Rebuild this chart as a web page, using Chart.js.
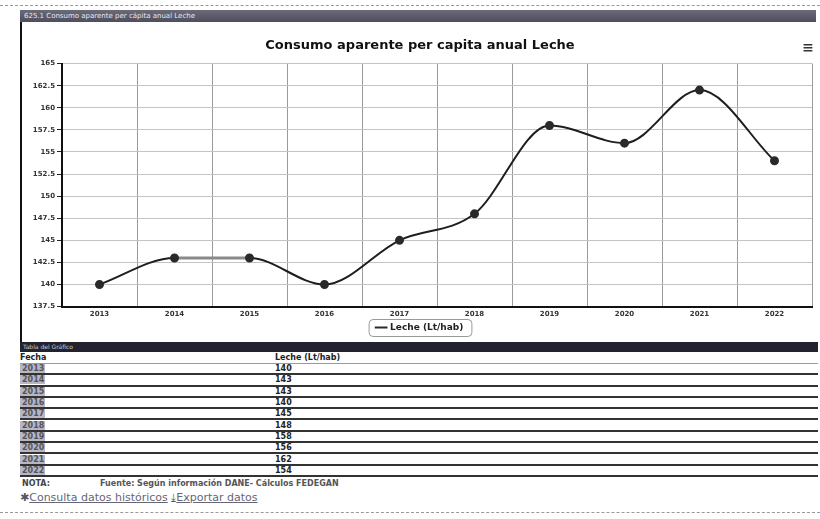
<!DOCTYPE html>
<html>
<head>
<meta charset="utf-8">
<script src="https://cdn.jsdelivr.net/npm/chart.js@4/dist/chart.umd.min.js"></script>
<style>
  html,body{margin:0;padding:0;background:#fff;width:820px;height:519px;overflow:hidden;font-family:"DejaVu Sans",Verdana,sans-serif;}
  .dots{position:absolute;left:0;width:820px;height:0;border-top:1px dashed #999;}
  #hdr{position:absolute;left:20px;top:10px;width:796px;height:12px;background:linear-gradient(#6a6a78,#4e4e5e);color:#e8e8f0;font-size:7px;line-height:12px;padding-left:4px;box-sizing:border-box;}
  #box{position:absolute;left:20px;top:22px;width:798px;height:320px;border-left:2px solid #111;background:#fff;box-sizing:border-box;}
  #wrap{position:absolute;left:0px;top:0;width:796px;height:320px;}
  #menu{position:absolute;right:4px;top:18px;font-size:14px;font-weight:bold;color:#333;line-height:14px;}
  #tbar{position:absolute;left:20px;top:342px;width:798px;height:10px;background:#23232f;color:#ccc;font-size:6px;line-height:10px;padding-left:3px;box-sizing:border-box;}
  table{position:absolute;left:20px;top:352px;width:798px;border-collapse:collapse;font-size:8px;font-weight:bold;color:#222;}
  td,th{padding:0;height:9.3px;line-height:9px;border-bottom:2px solid #333;text-align:left;overflow:hidden;}
  th{height:11px;line-height:11px;border-bottom:1px solid #999;}
  td.y span{background:#b6b6c6;padding:0 3px 0 2px;display:inline-block;width:20px;color:#555;height:9px;}
  #nota{position:absolute;left:22px;top:479px;font-size:8px;font-weight:bold;color:#444;}
  #fuente{position:absolute;left:100px;top:479px;font-size:8px;font-weight:bold;color:#555;}
  #links{position:absolute;left:20px;top:491px;font-size:11px;color:#556;}
  #links a{color:#667;text-decoration:underline;}
</style>
</head>
<body>
<div class="dots" style="top:5px"></div>
<div id="hdr">625.1 Consumo aparente per cápita anual Leche</div>
<div id="box">
  <div id="wrap"><canvas id="c"></canvas></div>
  <div id="menu">&#8801;</div>
</div>
<div id="tbar">Tabla del Gráfico</div>
<table id="tbl"></table>
<div id="nota">NOTA:</div>
<div id="fuente">Fuente: Según información DANE- Cálculos FEDEGAN</div>
<div id="links">&#10033;<a>Consulta datos históricos</a> &#10515;<a>Exportar datos</a></div>
<div class="dots" style="top:512px"></div>
<script>
const years = ["2013","2014","2015","2016","2017","2018","2019","2020","2021","2022"];
const leche = [140, 143, 143, 140, 145, 148, 158, 156, 162, 154];
const seriesName = "Leche (Lt/hab)";
const chartTitle = "Consumo aparente per capita anual Leche";

// table
const tbl = document.getElementById('tbl');
let html = '<tr><th style="width:255px">Fecha</th><th>' + seriesName + '</th></tr>';
years.forEach((y,i)=>{ html += '<tr><td class="y"><span>'+y+'</span></td><td>'+leche[i]+'</td></tr>'; });
tbl.innerHTML = html;

const legendBox = {
  id:'legendBox',
  afterDraw(chart){
    const lg = chart.legend; if(!lg || !lg.legendHitBoxes.length) return;
    const hb = lg.legendHitBoxes[0];
    const ctx = chart.ctx; ctx.save();
    ctx.strokeStyle = '#999'; ctx.lineWidth = 1;
    const x = hb.left - 8, y = hb.top - 4, w = hb.width + 16, h = hb.height + 8;
    ctx.beginPath();
    if (ctx.roundRect) ctx.roundRect(x+0.5, y+0.5, w, h, 4); else ctx.rect(x+0.5,y+0.5,w,h);
    ctx.stroke(); ctx.restore();
  }
};

new Chart(document.getElementById('c'), {
  type: 'line',
  data: {
    labels: years,
    datasets: [{
      label: seriesName,
      data: leche,
      borderColor: '#1e1e1e',
      backgroundColor: '#1e1e1e',
      borderWidth: 2,
      pointRadius: 3.5,
      pointBackgroundColor: '#2a2a2a',
      pointBorderColor: '#2a2a2a',
      cubicInterpolationMode: 'monotone',
      segment: { borderColor: c => c.p0DataIndex === 1 ? '#8a8a8a' : undefined, borderWidth: c => c.p0DataIndex === 1 ? 3 : undefined }
    }]
  },
  options: {
    responsive: true,
    maintainAspectRatio: false,
    animation: false,
    layout: { padding: { left: 0, right: 0, top: 0, bottom: 0 } },
    plugins: {
      title: { display: true, text: chartTitle, color: '#111', font: { family: 'DejaVu Sans', size: 13, weight: 'bold' }, padding: { top: 16, bottom: 10 } },
      legend: { position: 'bottom', labels: { usePointStyle: true, pointStyle: 'line', color: '#222', font: { family: 'DejaVu Sans', size: 9, weight: 'bold' }, boxWidth: 14, padding: 2 } },
      tooltip: { enabled: false }
    },
    scales: {
      x: {
        offset: true,
        grid: { offset: true, color: '#9a9a9a', lineWidth: 1, drawTicks: false },
        border: { color: '#111', width: 2 },
        ticks: { color: '#333', font: { family: 'DejaVu Sans', size: 7, weight: 'bold' }, padding: 3 }
      },
      y: {
        min: 137.5, max: 165,
        afterFit(s){ s.width = 40; },
        grid: { color: '#c4c4c4', lineWidth: 1, tickLength: 5, tickColor: '#222' },
        border: { color: '#111', width: 2 },
        ticks: { stepSize: 2.5, color: '#333', font: { family: 'DejaVu Sans', size: 7, weight: 'bold' }, padding: 2 }
      }
    }
  },
  plugins: [legendBox]
});
</script>
</body>
</html>
